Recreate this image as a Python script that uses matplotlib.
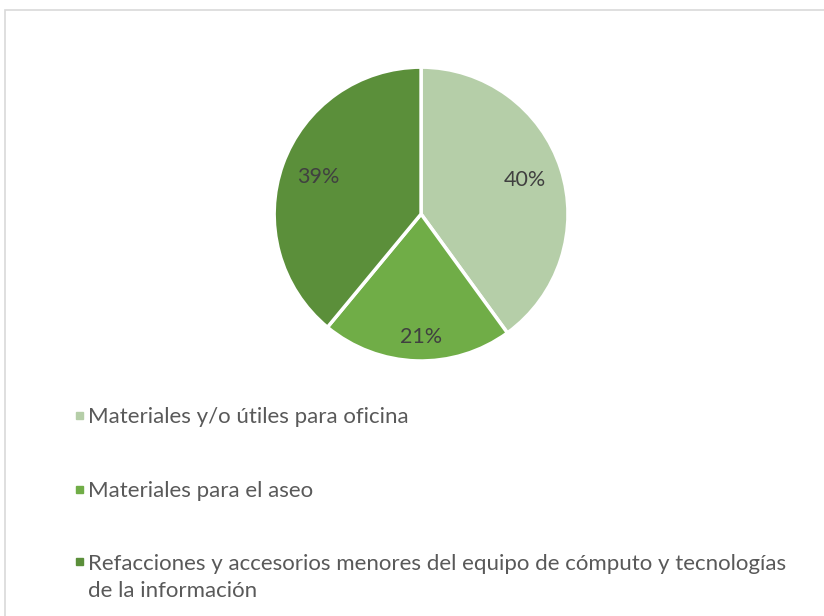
import matplotlib.pyplot as plt
from matplotlib.patches import Rectangle

categorias = [
    'Materiales y/o útiles para oficina',
    'Materiales para el aseo',
    'Refacciones y accesorios menores del equipo de cómputo y tecnologías\nde la información',
]
porcentajes = [40, 21, 39]
colores = ['#B5CEA8', '#70AD47', '#5B8F3A']

plt.rcParams['font.family'] = ['Lato', 'DejaVu Sans']

fig = plt.figure(figsize=(8.24, 6.16), dpi=100)

# marco del grafico (solo se ven los bordes izquierdo y superior)
fig.patches.append(Rectangle((5 / 824, -0.05), 1.2, 1 - 10 / 616 + 0.05,
                             transform=fig.transFigure, fill=False,
                             edgecolor='#D9D9D9', lw=1.2))

ax = fig.add_axes([0.3325, 0.414, 0.357, 0.477])
wedges, textos, autotextos = ax.pie(
    porcentajes, colors=colores, startangle=90, counterclock=False,
    autopct='%d%%', pctdistance=0.745,
    wedgeprops=dict(edgecolor='white', linewidth=2.5),
    textprops=dict(color='#404040', fontsize=15.5))
autotextos[1].set_position((0, -0.84))
ax.set_xlim(-1, 1)
ax.set_ylim(-1, 1)
ax.set_aspect('equal')

# leyenda
filas = [423, 497, 569]   # linea base de la primera linea, px desde arriba
interlinea = 28
for cat, col, y in zip(categorias, colores, filas):
    yf = 1 - y / 616
    fig.patches.append(Rectangle((76 / 824, yf + 4 / 616), 7 / 824, 7 / 616,
                                 transform=fig.transFigure, color=col))
    extra = interlinea * cat.count('\n') / 616
    fig.text(88 / 824, yf - extra, cat, color='#595959', fontsize=16,
             va='baseline', ha='left', linespacing=1.43)

fig.savefig('out.png', dpi=100)
